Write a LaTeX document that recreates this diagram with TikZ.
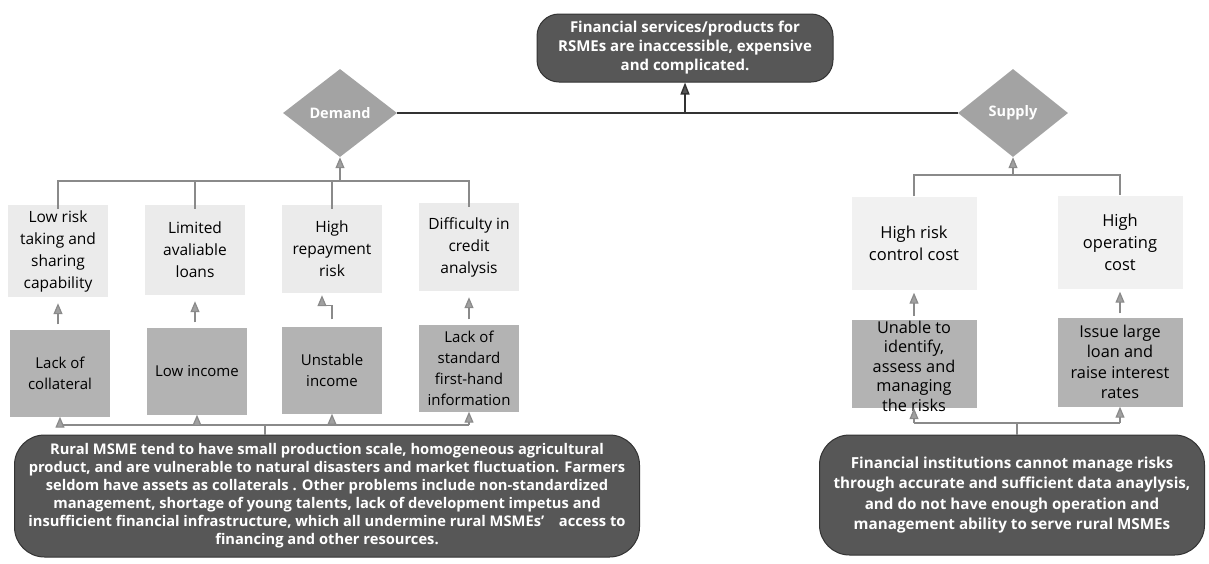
\documentclass[tikz,border=0pt]{standalone}
\usepackage{fontspec}
\setmainfont{Open Sans}
\usetikzlibrary{shapes.geometric,arrows.meta}
\definecolor{darkfill}{HTML}{575757}
\definecolor{darkline}{HTML}{333333}
\definecolor{diafill}{HTML}{A3A3A3}
\definecolor{lightfill}{HTML}{EBEBEB}
\definecolor{paler}{HTML}{F1F1F1}
\definecolor{midfill}{HTML}{B3B3B3}
\definecolor{linegray}{HTML}{8A8A8A}
\definecolor{arrfill}{HTML}{A0A0A0}
\tikzset{
  lightbox/.style={fill=lightfill, inner sep=0pt, align=center, text=black,
    font=\fontsize{15.5}{22}\selectfont},
  midbox/.style={fill=midfill, inner sep=0pt, align=center, text=black,
    font=\fontsize{15}{21}\selectfont},
  rlight/.style={lightbox, fill=paler, font=\fontsize{16.5}{22}\selectfont},
  rmid/.style={midbox, font=\fontsize{16.3}{20.5}\selectfont},
  roundbox/.style={fill=darkfill, draw=darkline, line width=1pt, inner sep=0pt,
    align=center, text=white, font=\bfseries\fontsize{15}{19}\selectfont},
  diam/.style={diamond, fill=diafill, inner sep=0pt, text=white,
    font=\bfseries\fontsize{14.5}{16}\selectfont},
  conn/.style={draw=linegray, line width=1.2pt},
  arr/.style={conn, -{Triangle[width=9pt,length=11pt,fill=arrfill]}},
  arrdark/.style={draw=darkline, line width=1.4pt, -{Triangle[width=9pt,length=12pt,fill=darkfill]}},
}
\begin{document}
\begin{tikzpicture}[x=1pt,y=-1pt]
\useasboundingbox (0,0) rectangle (1209,563);

% top
\node[roundbox, rounded corners=22pt, minimum width=296pt, minimum height=68pt] (top) at (685,48)
  {Financial services/products for\\RSMEs are inaccessible, expensive\\and complicated.};
\node[diam, minimum width=114pt, minimum height=88pt] (demand) at (340,113) {Demand};
\node[diam, minimum width=110pt, minimum height=88pt] (supply) at (1013,113) {Supply};
\draw[draw=darkline, line width=1.4pt] (demand.east) -- (supply.west);
\draw[arrdark] (top.south |- demand.east) -- (top.south);

% demand side
\coordinate (dj) at (340,181);
\node[lightbox, minimum width=100pt, minimum height=92pt] (L1) at (58,251) {Low risk\\taking and\\sharing\\capability};
\node[lightbox, minimum width=100pt, minimum height=90pt] (L2) at (195,250) {Limited\\avaliable\\loans};
\node[lightbox, minimum width=100pt, minimum height=88pt] (L3) at (332,249) {High\\repayment\\risk};
\node[lightbox, minimum width=100pt, minimum height=88pt] (L4) at (469,247) {Difficulty in\\credit\\analysis};
\node[midbox, minimum width=100pt, minimum height=87pt] (D1) at (60,373) {Lack of\\collateral};
\node[midbox, minimum width=100pt, minimum height=87pt] (D2) at (197,371) {Low income};
\node[midbox, minimum width=100pt, minimum height=87pt] (D3) at (332,370) {Unstable\\income};
\node[midbox, minimum width=100pt, minimum height=87pt] (D4) at (469,368) {Lack of\\standard\\first-hand\\information};

\draw[arr] (dj) -- (demand.south);
\draw[conn] ([yshift=-4pt]L1.north) -- (L1.north |- dj) -- (L4.north |- dj) -- ([yshift=-4pt]L4.north);
\draw[conn] (L2.north |- dj) -- ([yshift=-4pt]L2.north);
\draw[conn] (L3.north |- dj) -- ([yshift=-4pt]L3.north);

\draw[arr, shorten >=6pt] ([yshift=5pt]D1.north -| L1.south) -- (L1.south);
\draw[arr, shorten >=6pt] ([yshift=5pt]D2.north -| L2.south) -- (L2.south);
\draw[arr, shorten >=6pt] ([yshift=5pt]D4.north) -- (L4.south);
\coordinate (el) at ([xshift=-10pt,yshift=-12pt]L3.south);
\draw[arr] ([yshift=7pt]D3.north) |- (el) -- ([xshift=-10pt,yshift=-2pt]L3.south);

% demand bottom
\node[roundbox, rounded corners=30pt, minimum width=625pt, minimum height=122pt,
      font=\bfseries\fontsize{14.7}{18}\selectfont] (BL) at (327,496)
  {Rural MSME tend to have small production scale, homogeneous agricultural\\
   product, and are vulnerable to natural disasters and market fluctuation. Farmers\\
   seldom have assets as collaterals . Other problems include non-standardized\\
   management, shortage of young talents, lack of development impetus and\\
   insufficient financial infrastructure, which all undermine rural MSMEs'\quad access to\\
   financing and other resources.};
\coordinate (bj) at (265,425);
\draw[conn] (D1.south |- bj) -- (D4.south |- bj);
\draw[conn] (bj) -- (bj |- BL.north);
\foreach \n in {D1,D2,D3,D4} \draw[arr] (\n.south |- bj) -- (\n.south);

% supply side
\coordinate (sj) at (1013,175);
\node[rlight, minimum width=125pt, minimum height=93pt] (R1) at (914,243) {High risk\\control cost};
\node[rlight, minimum width=125pt, minimum height=93pt] (R2) at (1120,242) {High\\operating\\cost};
\node[rmid, minimum width=125pt, minimum height=88pt] (RD1) at (914,364) {};
\node[font=\fontsize{16.3}{19.5}\selectfont, align=center, anchor=north, inner sep=0pt] (RD1t) at ([yshift=-1pt]RD1.north)
  {Unable to\\identify,\\assess and\\managing\\the risks};
\node[rmid, minimum width=125pt, minimum height=89pt] (RD2) at (1120,362) {Issue large\\loan and\\raise interest\\rates};

\draw[arr] (sj) -- (supply.south);
\draw[conn] (R1.north) -- (R1.north |- sj) -- (R2.north |- sj) -- (R2.north);
\draw[arr, shorten >=3pt] ([yshift=4pt]RD1.north) -- (R1.south);
\draw[arr, shorten >=3pt] ([yshift=4pt]RD2.north) -- (R2.south);

\node[roundbox, rounded corners=30pt, minimum width=385pt, minimum height=120pt,
      font=\bfseries\fontsize{15.2}{20.5}\selectfont] (BR) at (1012,495)
  {Financial institutions cannot manage risks\\through accurate and sufficient data anaylysis,\\and do not have enough operation and\\management ability to serve rural MSMEs};
\coordinate (rj) at (1017,423);
\draw[conn] (RD1.south |- rj) -- (RD2.south |- rj);
\draw[conn] (rj) -- (rj |- BR.north);
\foreach \n in {RD1,RD2} \draw[arr] (\n.south |- rj) -- (\n.south);
\end{tikzpicture}
\end{document}
